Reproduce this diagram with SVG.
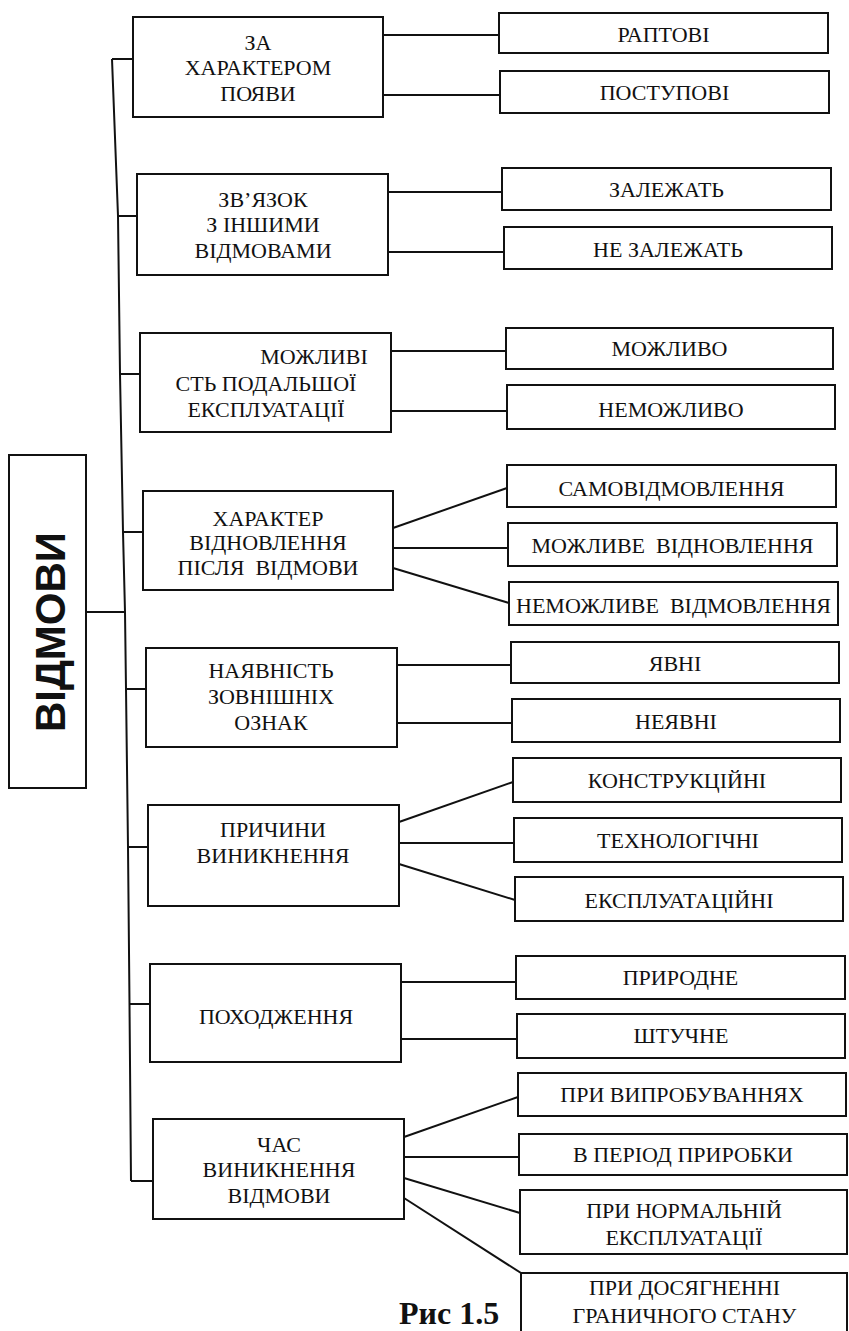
<svg xmlns="http://www.w3.org/2000/svg" width="849" height="1331" viewBox="0 0 849 1331">
<style>
rect.b{fill:#fff;stroke:#111;stroke-width:2}
text{font-family:"Liberation Serif","Times New Roman",serif;font-size:22px;fill:#111;text-anchor:middle}
text.main{font-family:"Liberation Sans",Arial,sans-serif;font-weight:bold;font-size:42px}
text.cap{font-weight:bold;font-size:32px;text-anchor:start}
.c{fill:none;stroke:#111;stroke-width:2}
</style>
<rect width="849" height="1331" fill="#fff"/>
<g id="connectors" class="c">
<polyline points="112,59 118,216 120,374 123,532 125,612 126,689 128,847 129.5,1004 131,1181"/>
<line x1="112" y1="59" x2="133" y2="59"/>
<line x1="118" y1="216" x2="137" y2="216"/>
<line x1="120" y1="374" x2="140" y2="374"/>
<line x1="123" y1="532" x2="143" y2="532"/>
<line x1="86" y1="612" x2="125" y2="612"/>
<line x1="126" y1="689" x2="146" y2="689"/>
<line x1="128" y1="847" x2="148" y2="847"/>
<line x1="129.5" y1="1004" x2="150" y2="1004"/>
<line x1="131" y1="1181" x2="153" y2="1181"/>
<line x1="383" y1="35" x2="499" y2="35"/>
<line x1="383" y1="95" x2="500" y2="95"/>
<line x1="388" y1="192" x2="502" y2="192"/>
<line x1="388" y1="252" x2="504" y2="252"/>
<line x1="391" y1="351" x2="506" y2="351"/>
<line x1="391" y1="411" x2="507" y2="411"/>
<line x1="393" y1="528" x2="507" y2="488"/>
<line x1="393" y1="548" x2="508" y2="548"/>
<line x1="393" y1="568" x2="509" y2="603"/>
<line x1="397" y1="665" x2="511" y2="665"/>
<line x1="397" y1="723" x2="512" y2="723"/>
<line x1="399" y1="822" x2="513" y2="782"/>
<line x1="399" y1="843" x2="514" y2="843"/>
<line x1="399" y1="864" x2="515" y2="900"/>
<line x1="401" y1="982" x2="516" y2="982"/>
<line x1="401" y1="1039" x2="517" y2="1039"/>
<line x1="404" y1="1137" x2="518" y2="1097"/>
<line x1="404" y1="1157" x2="519" y2="1157"/>
<line x1="404" y1="1178" x2="520" y2="1213"/>
<line x1="404" y1="1198" x2="521" y2="1273"/>
</g>
<g id="n-main"><rect class="b" x="9" y="455" width="77" height="333"/><text class="main" transform="translate(65,632) rotate(-90)">ВІДМОВИ</text></g>
<g id="n1"><rect class="b" x="133" y="17" width="250" height="100"/><text x="258" y="50">ЗА</text><text x="258" y="75">ХАРАКТЕРОМ</text><text x="258" y="101">ПОЯВИ</text></g>
<g id="n2"><rect class="b" x="137" y="174" width="251" height="101"/><text x="263" y="207">ЗВ’ЯЗОК</text><text x="263" y="232">З ІНШИМИ</text><text x="263" y="258">ВІДМОВАМИ</text></g>
<g id="n3"><rect class="b" x="140" y="333" width="251" height="99"/><text x="314" y="364">МОЖЛИВІ</text><text x="266" y="391">СТЬ ПОДАЛЬШОЇ</text><text x="266" y="417">ЕКСПЛУАТАЦІЇ</text></g>
<g id="n4"><rect class="b" x="143" y="491" width="250" height="99"/><text x="268" y="526">ХАРАКТЕР</text><text x="268" y="550">ВІДНОВЛЕННЯ</text><text x="268" y="575" style="white-space:pre">ПІСЛЯ  ВІДМОВИ</text></g>
<g id="n5"><rect class="b" x="146" y="648" width="251" height="99"/><text x="271" y="678">НАЯВНІСТЬ</text><text x="271" y="704">ЗОВНІШНІХ</text><text x="271" y="730">ОЗНАК</text></g>
<g id="n6"><rect class="b" x="148" y="805" width="251" height="101"/><text x="273" y="837">ПРИЧИНИ</text><text x="273" y="863">ВИНИКНЕННЯ</text></g>
<g id="n7"><rect class="b" x="150" y="964" width="251" height="98"/><text x="276" y="1024">ПОХОДЖЕННЯ</text></g>
<g id="n8"><rect class="b" x="153" y="1119" width="251" height="100"/><text x="279" y="1152">ЧАС</text><text x="279" y="1177">ВИНИКНЕННЯ</text><text x="279" y="1203">ВІДМОВИ</text></g>
<g id="r1"><rect class="b" x="499" y="13" width="329" height="40"/><text x="663.5" y="42">РАПТОВІ</text></g>
<g id="r2"><rect class="b" x="500" y="71" width="329" height="42"/><text x="664.5" y="100">ПОСТУПОВІ</text></g>
<g id="r3"><rect class="b" x="502" y="168" width="329" height="42"/><text x="666.5" y="197">ЗАЛЕЖАТЬ</text></g>
<g id="r4"><rect class="b" x="504" y="227" width="328" height="42"/><text x="668" y="257">НЕ ЗАЛЕЖАТЬ</text></g>
<g id="r5"><rect class="b" x="506" y="328" width="327" height="41"/><text x="669.5" y="356">МОЖЛИВО</text></g>
<g id="r6"><rect class="b" x="507" y="385" width="328" height="44"/><text x="671" y="417">НЕМОЖЛИВО</text></g>
<g id="r7"><rect class="b" x="507" y="465" width="329" height="42"/><text x="671.5" y="496">САМОВІДМОВЛЕННЯ</text></g>
<g id="r8"><rect class="b" x="508" y="523" width="329" height="43"/><text x="672.5" y="553" style="white-space:pre">МОЖЛИВЕ  ВІДНОВЛЕННЯ</text></g>
<g id="r9"><rect class="b" x="509" y="582" width="329" height="43"/><text x="673.5" y="613" style="white-space:pre">НЕМОЖЛИВЕ  ВІДМОВЛЕННЯ</text></g>
<g id="r10"><rect class="b" x="511" y="642" width="328" height="41"/><text x="675" y="671">ЯВНІ</text></g>
<g id="r11"><rect class="b" x="512" y="699" width="328" height="43"/><text x="676" y="729">НЕЯВНІ</text></g>
<g id="r12"><rect class="b" x="513" y="758" width="328" height="44"/><text x="677" y="788">КОНСТРУКЦІЙНІ</text></g>
<g id="r13"><rect class="b" x="514" y="818" width="328" height="44"/><text x="678" y="848">ТЕХНОЛОГІЧНІ</text></g>
<g id="r14"><rect class="b" x="515" y="877" width="328" height="44"/><text x="679" y="908">ЕКСПЛУАТАЦІЙНІ</text></g>
<g id="r15"><rect class="b" x="516" y="956" width="329" height="43"/><text x="680.5" y="985">ПРИРОДНЕ</text></g>
<g id="r16"><rect class="b" x="517" y="1014" width="328" height="44"/><text x="681" y="1043">ШТУЧНЕ</text></g>
<g id="r17"><rect class="b" x="518" y="1073" width="328" height="43"/><text x="682" y="1102">ПРИ ВИПРОБУВАННЯХ</text></g>
<g id="r18"><rect class="b" x="519" y="1134" width="328" height="41"/><text x="683" y="1162">В ПЕРІОД ПРИРОБКИ</text></g>
<g id="r19"><rect class="b" x="520" y="1190" width="327" height="64"/><text x="684" y="1218">ПРИ НОРМАЛЬНІЙ</text><text x="684" y="1245">ЕКСПЛУАТАЦІЇ</text></g>
<g id="r20"><rect class="b" x="521" y="1273" width="326" height="70"/><text x="684.5" y="1295">ПРИ ДОСЯГНЕННІ</text><text x="684.5" y="1323">ГРАНИЧНОГО СТАНУ</text></g>
<text class="cap" x="399" y="1324">Рис 1.5</text>
</svg>
